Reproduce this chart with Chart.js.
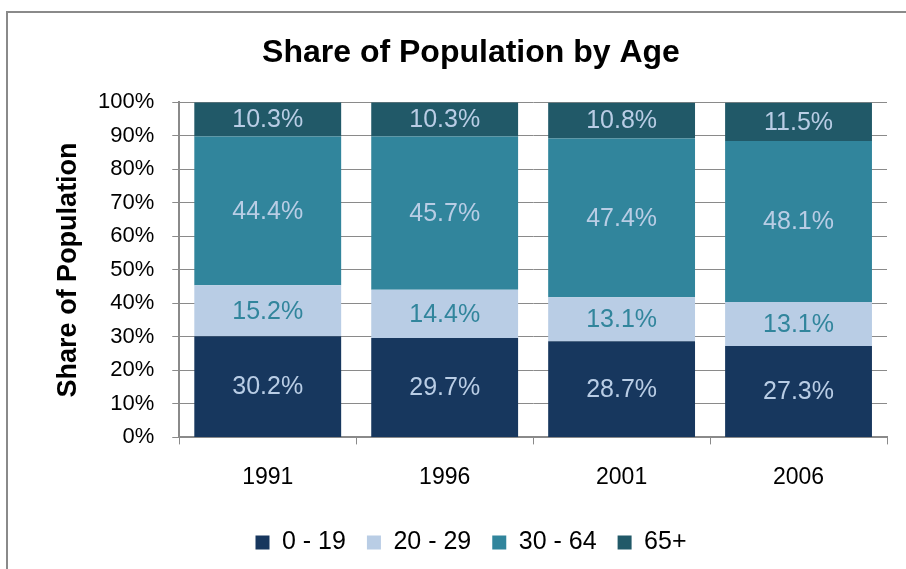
<!DOCTYPE html>
<html>
<head>
<meta charset="utf-8">
<script src="https://cdn.jsdelivr.net/npm/chart.js@4.4.1/dist/chart.umd.min.js"></script>
<style>
  html, body { margin: 0; padding: 0; background: #fff; }
  #wrap { position: relative; width: 906px; height: 569px; overflow: hidden; }
  #c { position: absolute; left: 0; top: 0; }
  #frame { position: absolute; left: 6px; top: 11px; width: 960px; height: 640px;
           border: 2px solid #8a8a8a; pointer-events: none; }
</style>
</head>
<body>
<div id="wrap">
  <canvas id="c" width="906" height="569"></canvas>
  <div id="frame"></div>
</div>
<script>
const categories = ['1991', '1996', '2001', '2006'];
const seriesNames = ['0 - 19', '20 - 29', '30 - 64', '65+'];
const age0to19 = [30.2, 29.7, 28.7, 27.3];
const age20to29 = [15.2, 14.4, 13.1, 13.1];
const age30to64 = [44.4, 45.7, 47.4, 48.1];
const age65plus = [10.3, 10.3, 10.8, 11.5];
const yTicks = [0, 10, 20, 30, 40, 50, 60, 70, 80, 90, 100];

const colors = ['#17375E', '#B9CDE5', '#31859C', '#215968'];
const labelColors = ['#B9CDE5', '#31859C', '#B9CDE5', '#B9CDE5'];
const FONT = '"Liberation Sans", Arial, sans-serif';

Chart.defaults.font.family = FONT;
Chart.defaults.color = '#000';

const valueLabels = {
  id: 'valueLabels',
  afterDatasetsDraw(chart) {
    const ctx = chart.ctx;
    ctx.save();
    ctx.font = '25px ' + FONT;
    ctx.textAlign = 'center';
    ctx.textBaseline = 'middle';
    chart.data.datasets.forEach((ds, di) => {
      const meta = chart.getDatasetMeta(di);
      meta.data.forEach((el, i) => {
        const p = el.getCenterPoint();
        ctx.fillStyle = labelColors[di];
        ctx.fillText(ds.data[i].toFixed(1) + '%', p.x, p.y + 1);
      });
    });
    ctx.restore();
  }
};

const allSeries = [age0to19, age20to29, age30to64, age65plus];

new Chart(document.getElementById('c'), {
  type: 'bar',
  data: {
    labels: categories,
    datasets: allSeries.map((d, i) => ({
      label: seriesNames[i],
      data: d,
      backgroundColor: colors[i],
      borderWidth: 0,
      categoryPercentage: 1.0,
      barPercentage: 0.83
    }))
  },
  options: {
    responsive: false,
    animation: false,
    layout: { padding: { left: 55, right: 19, top: 0, bottom: 4 } },
    plugins: {
      title: {
        display: true,
        text: 'Share of Population by Age',
        font: { size: 32, weight: 'bold' },
        color: '#000',
        padding: { top: 34, bottom: 30 }
      },
      legend: {
        position: 'bottom',
        labels: {
          boxWidth: 14,
          boxHeight: 14,
          font: { size: 25 },
          color: '#000',
          padding: 21
        }
      },
      tooltip: { enabled: false }
    },
    scales: {
      x: {
        stacked: true,
        grid: {
          offset: true,
          drawOnChartArea: false,
          tickLength: 7,
          color: '#8a8a8a',
          lineWidth: 1
        },
        border: { color: '#8a8a8a', width: 2 },
        ticks: { font: { size: 23 }, color: '#000', padding: 19 },
        afterFit(axis) { axis.height -= 1; }
      },
      y: {
        stacked: true,
        min: 0,
        max: 100,
        afterBuildTicks(axis) { axis.ticks = yTicks.map(v => ({ value: v })); },
        grid: { color: '#8a8a8a', lineWidth: 1, tickLength: 7 },
        border: { color: '#8a8a8a', width: 2 },
        ticks: {
          font: { size: 22 },
          color: '#000',
          padding: 18,
          callback: v => v + '%'
        },
        title: {
          display: true,
          text: 'Share of Population',
          font: { size: 27, weight: 'bold', lineHeight: 1.0 },
          color: '#000',
          padding: { top: 0, bottom: -2 }
        }
      }
    }
  },
  plugins: [valueLabels]
});
</script>
</body>
</html>
